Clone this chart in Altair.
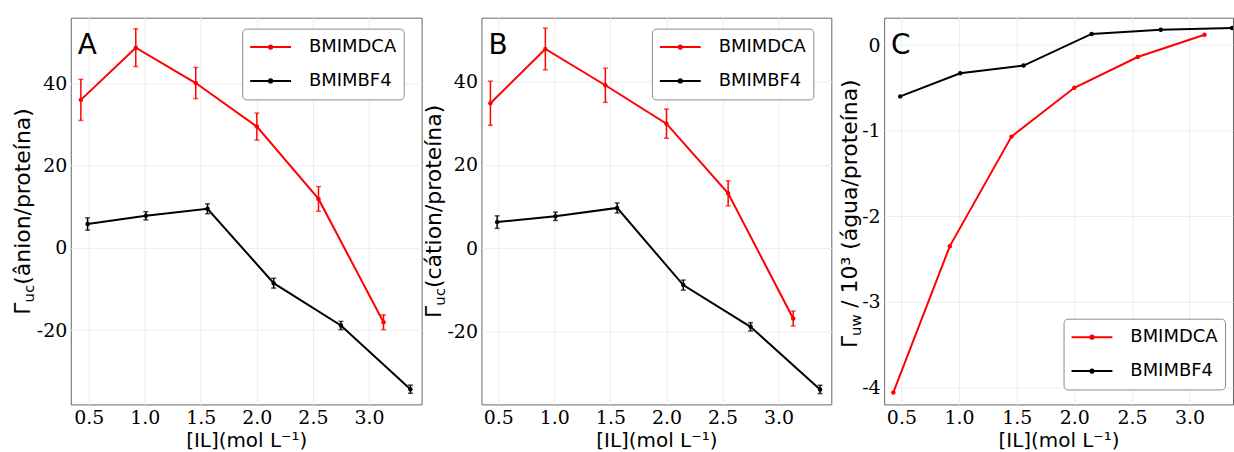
import altair as alt
import pandas as pd

SERIES = ["BMIMDCA", "BMIMBF4"]
COLORS = ["#ff0000", "#000000"]

# concentrations [IL] (mol/L)
X_DCA = [0.43, 0.92, 1.455, 2.0, 2.55, 3.13]
X_BF4 = [0.49, 1.01, 1.56, 2.15, 2.75, 3.37]

# Panel A: Gamma_uc (anion/protein)
A_DCA = [36.0, 48.7, 40.1, 29.5, 11.9, -18.1]
A_DCA_ERR = [5.0, 4.6, 3.8, 3.3, 3.0, 1.8]
A_BF4 = [5.8, 7.8, 9.5, -8.6, -18.9, -34.4]
A_BF4_ERR = [1.5, 1.0, 1.2, 1.2, 1.0, 1.0]

# Panel B: Gamma_uc (cation/protein)
B_DCA = [34.8, 47.8, 39.1, 29.9, 13.2, -16.8]
B_DCA_ERR = [5.3, 5.0, 4.1, 3.5, 3.0, 1.8]
B_BF4 = [6.3, 7.7, 9.7, -8.8, -18.8, -33.8]
B_BF4_ERR = [1.5, 1.0, 1.2, 1.2, 1.0, 1.0]

# Panel C: Gamma_uw / 10^3 (water/protein)
C_DCA = [-4.06, -2.35, -1.07, -0.50, -0.14, 0.12]
C_BF4 = [-0.60, -0.33, -0.24, 0.13, 0.18, 0.20]

X_TICKS = [0.5, 1.0, 1.5, 2.0, 2.5, 3.0]
AB_Y_TICKS = [-20, 0, 20, 40]
C_Y_TICKS = [-4, -3, -2, -1, 0]
X_TITLE = "[IL](mol L\u207b\u00b9)"

LEGEND_PATH = "M-1,0H1M0.08,0A0.08,0.08,0,1,1,-0.08,0A0.08,0.08,0,1,1,0.08,0Z"
SERIF = "DejaVu Serif, Liberation Serif, serif"


def frame(dca, bf4, dca_err=None, bf4_err=None):
    rows = []
    for name, xs, ys, es in [("BMIMDCA", X_DCA, dca, dca_err), ("BMIMBF4", X_BF4, bf4, bf4_err)]:
        for i, (xv, yv) in enumerate(zip(xs, ys)):
            rows.append({"conc": xv, "value": yv,
                         "err": (es[i] if es else 0.0),
                         "series": name, "order": i})
    return pd.DataFrame(rows)


ONE = pd.DataFrame({"k": [0]})


def panel(df, xdom, ydom, yticks, width, height, letter, title_parts,
          lx, ly, with_err, clip=False):
    xscale = alt.Scale(domain=xdom, nice=False, zero=False)
    yscale = alt.Scale(domain=ydom, nice=False, zero=False)
    xaxis = alt.Axis(values=X_TICKS, labelExpr="format(datum.value, '.1f')", title=X_TITLE,
                     labelFont=SERIF)
    yaxis = alt.Axis(values=yticks, labelExpr="'' + datum.value", title=None,
                     labelFont=SERIF)
    cscale = alt.Scale(domain=SERIES, range=COLORS)

    def X(f="conc"):
        return alt.X(f + ":Q", scale=xscale, axis=xaxis)

    def Y(f="value"):
        return alt.Y(f + ":Q", scale=yscale, axis=yaxis)

    leg = alt.Legend(
        orient="none", legendX=lx, legendY=ly, title=None,
        symbolType=LEGEND_PATH, symbolSize=1681, symbolStrokeWidth=2,
        labelFont="DejaVu Sans", labelFontSize=18, labelColor="black",
        labelOffset=17, padding=7, rowPadding=11, clipHeight=23,
        strokeColor="#8c8c8c", fillColor="white", cornerRadius=4,
    )
    color_leg = alt.Color("series:N", scale=cscale, legend=leg, sort=SERIES)
    color_nol = alt.Color("series:N", scale=cscale, legend=None, sort=SERIES)

    base = alt.Chart(df)
    layers = []
    line = base.mark_line(strokeWidth=2, clip=clip).encode(
        x=X(), y=Y(), color=color_leg, order="order:Q")
    layers.append(line)
    if with_err:
        eb = base.transform_calculate(lo="datum.value - datum.err", hi="datum.value + datum.err")
        layers.append(eb.mark_rule(strokeWidth=1.5).encode(
            x=X(), y=Y("lo"), y2="hi:Q", color=color_nol))
        layers.append(eb.mark_tick(orient="horizontal", size=5, thickness=1.5).encode(
            x=X(), y=Y("lo"), color=color_nol))
        layers.append(eb.mark_tick(orient="horizontal", size=5, thickness=1.5).encode(
            x=X(), y=Y("hi"), color=color_nol))
    layers.append(base.mark_point(filled=True, size=20, opacity=1, clip=clip).encode(
        x=X(), y=Y(), color=color_nol))

    layers.append(alt.Chart(ONE).mark_text(
        text=letter, font="DejaVu Sans", fontSize=28, align="left",
        baseline="alphabetic", color="black").encode(
        x=alt.value(7), y=alt.value(36)))

    for txt, px, py, fs in title_parts:
        layers.append(alt.Chart(ONE).mark_text(
            text=txt, font="DejaVu Sans", fontSize=fs, angle=270, align="left",
            baseline="alphabetic", color="black").encode(
            x=alt.value(px), y=alt.value(py)))

    return alt.layer(*layers).properties(width=width, height=height)


H = 388

A = panel(frame(A_DCA, A_BF4, A_DCA_ERR, A_BF4_ERR), [0.34, 3.47], [-38.1, 56.0],
          AB_Y_TICKS, 352, H, "A",
          [("\u0393", -40.5, 298.0, 22), ("uc", -36.5, 285.7, 15),
           ("(\u00e2nion/prote\u00edna)", -40.5, 267.9, 22)],
          172, 11, True)

B = panel(frame(B_DCA, B_BF4, B_DCA_ERR, B_BF4_ERR), [0.35, 3.47], [-37.4, 55.3],
          AB_Y_TICKS, 351, H, "B",
          [("\u0393", -41, 301.2, 22), ("uc", -37, 289.0, 15),
           ("(c\u00e1tion/prote\u00edna)", -41, 271.2, 22)],
          171, 11, True)

C = panel(frame(C_DCA, C_BF4), [0.35, 3.377], [-4.2, 0.32],
          C_Y_TICKS, 350, H, "C",
          [("\u0393", -27, 331.5, 22), ("uw", -23, 319.3, 15),
           ("/ 10\u00b3 (\u00e1gua/prote\u00edna)", -27, 291.0, 22)],
          180, 302, False, clip=True)

inner = alt.hconcat(A, B, spacing=60, bounds="flush").resolve_scale(
    color="independent").resolve_legend(color="independent")

chart = alt.hconcat(inner, C, spacing=6, bounds="full").resolve_scale(
    color="independent").resolve_legend(color="independent").properties(
    padding={"left": 11, "top": 16, "right": 0, "bottom": 0}
).configure_view(
    stroke="#666666", strokeWidth=1
).configure_axis(
    domain=False, ticks=False, tickSize=0, grid=True, gridColor="#ececec", gridWidth=1,
    labelFont=SERIF, labelFontSize=19, labelColor="black", labelPadding=4,
    titleFont="DejaVu Sans", titleFontSize=20, titleColor="black", titleFontWeight="normal",
    titlePadding=3,
)

chart.save("out.html", embed_options={"renderer": "svg", "actions": False})
